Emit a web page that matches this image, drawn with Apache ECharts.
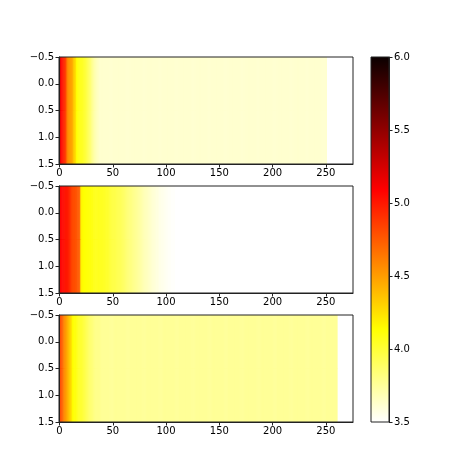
<!DOCTYPE html>
<html>
<head>
<meta charset="utf-8">
<script src="https://cdn.jsdelivr.net/npm/echarts@6/dist/echarts.min.js"></script>
<style>html,body{margin:0;padding:0;background:#fff;}#main{width:474px;height:474px;}</style>
</head>
<body>
<div id="main"></div>
<script>
// ---- Data ----
const rowLabels = [0, 1];
const xTickValues = [0, 50, 100, 150, 200, 250];
const yTickLabels = ['\u22120.5', '0.0', '0.5', '1.0', '1.5'];
const colorbarTicks = ['3.5', '4.0', '4.5', '5.0', '5.5', '6.0'];
const colorMin = 3.5;
const colorMax = 6.0;
const xMin = -0.5;
const xMax = 275.5;

// Panel 1: varying head, then a flat tail
const panel1Head = [5.35, 5.15, 5.05, 5.0, 4.95, 4.9, 4.8, 4.62, 4.55, 4.52,
  4.5, 4.48, 4.45, 4.35, 4.3, 4.25, 4.15, 4.12, 4.1, 4.08,
  4.07, 4.05, 4.03, 4.01, 3.99, 3.96, 3.93, 3.9, 3.87, 3.84,
  3.8, 3.77, 3.74, 3.71, 3.69, 3.67, 3.65, 3.64];
const panel1TailValue = 3.62;
const panel1Length = 251;

// Panel 2
const panel2Head = [5.25, 5.1, 5.08, 5.05, 5.05, 5.02, 5.0, 5.0, 4.98, 4.95,
  4.9, 4.85, 4.82, 4.8, 4.8, 4.78, 4.78, 4.75, 4.75, 4.7,
  4.2, 4.16, 4.14, 4.13, 4.12, 4.12, 4.11, 4.11, 4.1, 4.1,
  4.09, 4.09, 4.08, 4.08, 4.07, 4.07, 4.06, 4.06, 4.05, 4.05,
  4.05, 4.04, 4.04, 4.03, 4.02, 4.02, 4.01, 4.0, 3.99, 3.98,
  3.97, 3.96, 3.95, 3.94, 3.93, 3.92, 3.92, 3.91, 3.9, 3.89,
  3.88, 3.87, 3.86, 3.85, 3.84, 3.83, 3.82, 3.81, 3.8, 3.79,
  3.78, 3.77, 3.76, 3.75, 3.74, 3.73, 3.72, 3.71, 3.7, 3.69,
  3.68, 3.67, 3.66, 3.65, 3.64, 3.63, 3.62, 3.61, 3.6, 3.6,
  3.59, 3.58, 3.58, 3.57, 3.56, 3.56, 3.55, 3.55, 3.54, 3.54,
  3.53, 3.53, 3.52, 3.52, 3.52, 3.51, 3.51, 3.51, 3.51, 3.5,
  3.5, 3.5, 3.5, 3.5, 3.5, 3.5];
const panel2TailValue = 3.45;
const panel2Length = 276;

// Panel 3
const panel3Head = [4.85, 4.8, 4.75, 4.7, 4.6, 4.55, 4.5, 4.45, 4.4, 4.35,
  4.3, 4.25, 4.15, 4.12, 4.1, 4.1, 4.08, 4.06, 4.04, 4.03,
  4.02, 4.0, 3.98, 3.96, 3.94, 3.92, 3.9, 3.88, 3.86, 3.85,
  3.84, 3.83, 3.82, 3.81, 3.8, 3.8, 3.79, 3.79, 3.78];
const panel3TailValue = 3.76;
const panel3Length = 261;

// ---- Colormap (matplotlib "hot", reversed) ----
function hot(x) {
  const a = 0.365079, b = 0.746032;
  const r = x < a ? 0.0416 + (1 - 0.0416) * x / a : 1;
  const g = x < a ? 0 : (x < b ? (x - a) / (b - a) : 1);
  const bl = x < b ? 0 : (x - b) / (1 - b);
  return 'rgb(' + Math.round(r * 255) + ',' + Math.round(g * 255) + ',' + Math.round(bl * 255) + ')';
}
function hotR(v) {
  let n = (v - colorMin) / (colorMax - colorMin);
  n = Math.max(0, Math.min(1, n));
  return hot(1 - n);
}

function buildPanel(head, tailValue, length) {
  const cols = head.slice();
  while (cols.length < length) cols.push(tailValue);
  const out = [];
  rowLabels.forEach(r => cols.forEach((v, c) => out.push([c, r, v])));
  return out;
}

const panels = [
  buildPanel(panel1Head, panel1TailValue, panel1Length),
  buildPanel(panel2Head, panel2TailValue, panel2Length),
  buildPanel(panel3Head, panel3TailValue, panel3Length)
];

const FONT = 'DejaVu Sans';
const gridTops = [57, 186, 315];
const gridH = 107;
const grids = gridTops.map(t => ({
  left: 59, top: t, width: 294, height: gridH,
  show: true, borderColor: '#222', borderWidth: 1, backgroundColor: 'transparent', z: 5
}));
grids.push({ left: 371, top: 57, width: 18, height: 365, show: true, borderColor: '#222', borderWidth: 1, backgroundColor: 'transparent', z: 5 });

const xAxes = [0, 1, 2].map(i => ({
  gridIndex: i, type: 'value', min: xMin, max: xMax, position: 'bottom',
  axisLine: { show: true, onZero: false, lineStyle: { color: '#222', width: 1 } },
  axisTick: { show: true, length: 3.5, lineStyle: { color: '#222' }, customValues: xTickValues },
  axisLabel: { show: true, customValues: xTickValues, fontFamily: FONT, fontSize: 10, color: '#000', margin: 4 },
  splitLine: { show: false }, z: 6
}));
xAxes.push({ gridIndex: 3, type: 'value', min: 0, max: 1, show: false });

const yAxes = [0, 1, 2].map(i => ({
  gridIndex: i, type: 'value', min: -0.5, max: 1.5, interval: 0.5, inverse: true,
  axisLine: { show: true, onZero: false, lineStyle: { color: '#222', width: 1 } },
  axisTick: { show: true, length: 3.5, lineStyle: { color: '#222' } },
  axisLabel: { show: true, fontFamily: FONT, fontSize: 10, color: '#000', margin: 5,
    formatter: function (v) { const idx = Math.round((v + 0.5) / 0.5); return yTickLabels[idx]; } },
  splitLine: { show: false }, z: 6
}));
yAxes.push({
  gridIndex: 3, type: 'value', min: colorMin, max: colorMax, interval: 0.5, position: 'right',
  axisLine: { show: true, onZero: false, lineStyle: { color: '#222', width: 1 } },
  axisTick: { show: true, length: 3.5, lineStyle: { color: '#222' } },
  axisLabel: { show: true, fontFamily: FONT, fontSize: 10, color: '#000', margin: 5,
    formatter: function (v) { const idx = Math.round((v - colorMin) / 0.5); return colorbarTicks[idx]; } },
  splitLine: { show: false }, z: 6
});

function cellRender(params, api) {
  const c = api.value(0), r = api.value(1), v = api.value(2);
  const p1 = api.coord([c - 0.5, r - 0.5]);
  const p2 = api.coord([c + 0.5, r + 0.5]);
  const x = Math.min(p1[0], p2[0]), y = Math.min(p1[1], p2[1]);
  const w = Math.abs(p2[0] - p1[0]), h = Math.abs(p2[1] - p1[1]);
  return {
    type: 'rect',
    shape: { x: x, y: y, width: w + 0.6, height: h + 0.6 },
    style: { fill: hotR(v), stroke: null },
    silent: true
  };
}

const series = panels.map((d, i) => ({
  type: 'custom', xAxisIndex: i, yAxisIndex: i, data: d,
  renderItem: cellRender, clip: true, animation: false, z: 2
}));

series.push({
  type: 'custom', xAxisIndex: 3, yAxisIndex: 3, data: [[0, colorMin, 1, colorMax]],
  clip: true, animation: false, z: 2,
  renderItem: function (params, api) {
    const p1 = api.coord([api.value(0), api.value(3)]);
    const p2 = api.coord([api.value(2), api.value(1)]);
    return {
      type: 'rect',
      shape: { x: p1[0], y: p1[1], width: p2[0] - p1[0], height: p2[1] - p1[1] },
      style: {
        fill: new echarts.graphic.LinearGradient(0, 0, 0, 1, [
          { offset: 0, color: hot(0) },
          { offset: 0.365079, color: hot(0.365079) },
          { offset: 0.746032, color: hot(0.746032) },
          { offset: 1, color: hot(1) }
        ])
      }
    };
  }
});

const chart = echarts.init(document.getElementById('main'), null, { renderer: 'canvas' });
chart.setOption({
  backgroundColor: '#fff',
  animation: false,
  grid: grids,
  xAxis: xAxes,
  yAxis: yAxes,
  series: series
});
</script>
</body>
</html>
